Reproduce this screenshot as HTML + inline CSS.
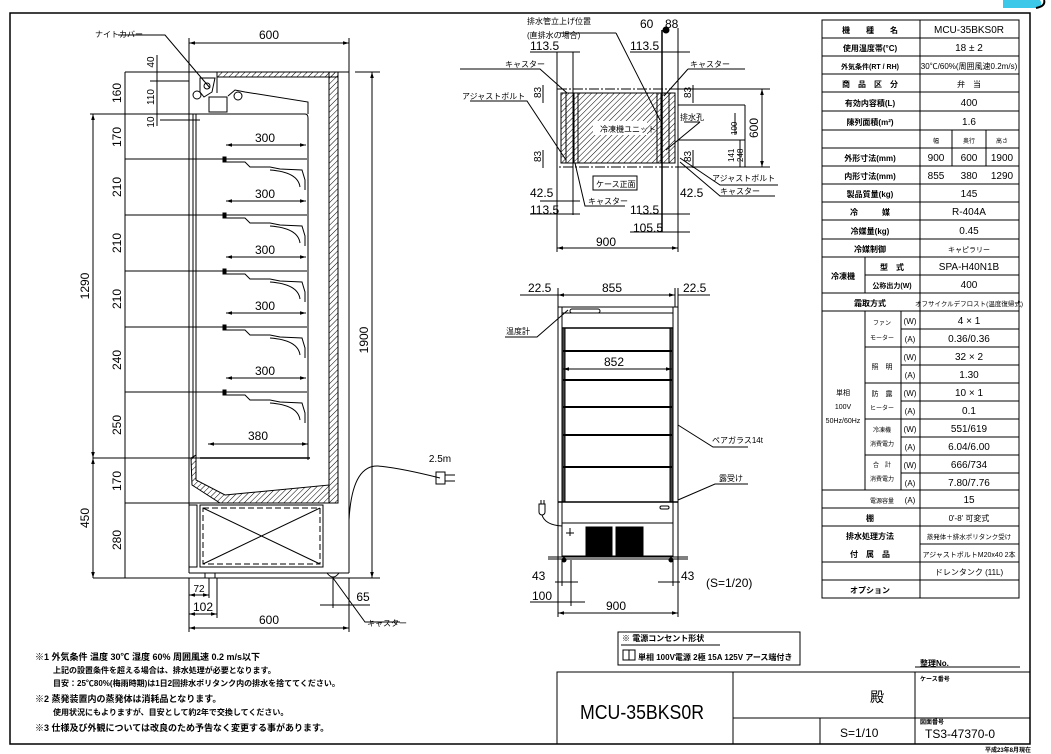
<!DOCTYPE html>
<html><head><meta charset="utf-8">
<style>
html,body{margin:0;padding:0;background:#fff;}
svg{display:block;font-family:"Liberation Sans","Noto Sans CJK JP",sans-serif;}
text{fill:#000;}
.d{font-size:12px;}
.s{font-size:8px;}
.t{font-size:10px;}
</style></head><body>
<svg width="1051" height="754" viewBox="0 0 1051 754" xmlns="http://www.w3.org/2000/svg">
<defs>
<pattern id="h" width="4" height="4" patternUnits="userSpaceOnUse" patternTransform="rotate(45)">
<line x1="0" y1="0" x2="0" y2="4" stroke="#000" stroke-width="1"/></pattern>
<marker id="a" viewBox="0 0 10 10" refX="10" refY="5" markerWidth="6" markerHeight="6" orient="auto-start-reverse"><path d="M0,2 L10,5 L0,8z" fill="#000"/></marker>
</defs>
<path d="M1003,0 H1040 Q1044,6 1036,8 H1003z" fill="#3cc8e8"/>
<path d="M1036,8 Q1046,6 1044,0" stroke="#000" stroke-width="2" fill="none"/>
<rect x="10" y="13" width="1020" height="731" fill="none" stroke="#000" stroke-width="1.5"/>

<g stroke="#000" fill="none" stroke-width="1">
<line x1="189" y1="43" x2="349" y2="43" marker-start="url(#a)" marker-end="url(#a)"/>
<line x1="189" y1="38" x2="189" y2="72"/><line x1="349" y1="38" x2="349" y2="72"/>
<rect x="217" y="72" width="121" height="5" fill="url(#h)"/>
<rect x="329" y="72" width="9" height="431" fill="url(#h)"/>
<path d="M191,458 L196,455 L196,480 L225,495 L329,485 L329,503 L300,503 L220,503 L192,485z" fill="url(#h)"/>
<line x1="189" y1="72" x2="189" y2="573"/>
<line x1="193" y1="114" x2="193" y2="458"/>
<line x1="196" y1="114" x2="196" y2="458"/>
<line x1="189" y1="72" x2="217" y2="72"/>
<line x1="217" y1="72" x2="217" y2="93"/>
<path d="M200,78 L215,78 L212,92 L204,97 L200,92z"/>
<circle cx="207" cy="86" r="3"/><circle cx="197" cy="95" r="4"/>
<rect x="209" y="97" width="18" height="15"/>
<path d="M228,96 L235,90 L245,92 L308,102 L308,114"/>
<circle cx="238" cy="96" r="4"/>
<line x1="189" y1="114" x2="305" y2="114"/>
<path d="M305,114 Q308,114 308,118 L308,460"/>
<line x1="349" y1="72" x2="349" y2="573"/>
<line x1="338" y1="72" x2="349" y2="72"/>
<line x1="189" y1="573" x2="349" y2="573"/>
<line x1="189" y1="578" x2="380" y2="578"/>
<line x1="200" y1="458" x2="310" y2="458" stroke-width="1.5"/>
<line x1="189" y1="503" x2="338" y2="503"/>
<rect x="200" y="505" width="123" height="62"/>
<rect x="203" y="508" width="117" height="56" stroke-dasharray="6,3"/>
<line x1="203" y1="508" x2="320" y2="564"/><line x1="320" y1="508" x2="203" y2="564"/>
<rect x="189" y="505" width="8" height="62"/>
<path d="M205,573 h10 v5 h-10z M327,573 q6,8 12,0"/>
<g id="sh">
<path d="M225,159 L307,159 M225,162 L245,162 L250,167 L270,167 L280,169 L302,170 L305,180 L305,190"/>
<path d="M270,170 Q298,172 300,187"/>
<rect x="223" y="157" width="3" height="5" fill="#000"/>
</g>
<use href="#sh" y="56"/><use href="#sh" y="112"/><use href="#sh" y="168"/><use href="#sh" y="233"/>
<line x1="125" y1="159" x2="225" y2="159"/><line x1="125" y1="215" x2="225" y2="215"/>
<line x1="125" y1="271" x2="225" y2="271"/><line x1="125" y1="327" x2="225" y2="327"/>
<line x1="125" y1="392" x2="225" y2="392"/>
<line x1="93" y1="458" x2="200" y2="458"/><line x1="125" y1="503" x2="189" y2="503"/>
<line x1="125" y1="72" x2="189" y2="72"/><line x1="90" y1="114" x2="189" y2="114"/>
<line x1="93" y1="578" x2="189" y2="578"/>
<g id="dm"><line x1="226" y1="145" x2="306" y2="145" marker-start="url(#a)" marker-end="url(#a)"/></g>
<use href="#dm" y="56"/><use href="#dm" y="112"/><use href="#dm" y="168"/><use href="#dm" y="233"/>
<line x1="208" y1="444" x2="308" y2="444" marker-start="url(#a)" marker-end="url(#a)"/>
<line x1="93" y1="114" x2="93" y2="458" marker-start="url(#a)" marker-end="url(#a)"/>
<line x1="93" y1="458" x2="93" y2="578" marker-start="url(#a)" marker-end="url(#a)"/>
<line x1="125" y1="72" x2="125" y2="578"/>
<line x1="157" y1="55" x2="157" y2="126"/>
<line x1="150" y1="81" x2="189" y2="81"/>
<line x1="372" y1="72" x2="372" y2="578" marker-start="url(#a)" marker-end="url(#a)"/>
<line x1="355" y1="72" x2="380" y2="72"/>
<line x1="189" y1="595" x2="209" y2="595" marker-start="url(#a)" marker-end="url(#a)"/>
<line x1="189" y1="614" x2="217" y2="614" marker-start="url(#a)" marker-end="url(#a)"/>
<line x1="189" y1="628" x2="349" y2="628" marker-start="url(#a)" marker-end="url(#a)"/>
<line x1="189" y1="578" x2="189" y2="632"/><line x1="349" y1="578" x2="349" y2="632"/>
<line x1="209" y1="578" x2="209" y2="598"/><line x1="217" y1="578" x2="217" y2="618"/>
<line x1="320" y1="605" x2="370" y2="605"/><line x1="333" y1="578" x2="333" y2="608"/>
<path d="M333,578 L365,622 L400,622"/>
<line x1="160" y1="120" x2="200" y2="120"/>
<path d="M118,35 L165,35 L210,88"/>
<path d="M349,520 Q352,465 378,466 Q400,468 440,478"/>
<rect x="436" y="472" width="9" height="12"/>
<line x1="445" y1="475" x2="455" y2="475"/><line x1="445" y1="481" x2="455" y2="481"/>

<rect x="557" y="89" width="121" height="78" stroke-dasharray="10,2,2,2"/>
<rect x="561" y="93" width="114" height="70"/>
<rect x="561" y="93" width="17" height="70" fill="url(#h)"/>
<rect x="578" y="93" width="79" height="70" fill="url(#h)"/>
<rect x="657" y="93" width="18" height="70" fill="url(#h)"/>
<rect x="566" y="93" width="8" height="70"/><rect x="661" y="93" width="8" height="70"/>
<rect x="593" y="121" width="54" height="14" fill="#fff" stroke="none"/>
<rect x="593" y="176" width="44" height="14"/>
<line x1="557" y1="52" x2="557" y2="252"/><line x1="678" y1="28" x2="678" y2="252"/>
<line x1="573" y1="52" x2="573" y2="215"/><line x1="662" y1="52" x2="662" y2="215"/>
<line x1="557" y1="248" x2="678" y2="248" marker-start="url(#a)" marker-end="url(#a)"/>
<line x1="762" y1="89" x2="762" y2="167" marker-start="url(#a)" marker-end="url(#a)"/>
<line x1="678" y1="89" x2="770" y2="89"/><line x1="678" y1="167" x2="770" y2="167"/>
<line x1="530" y1="52" x2="580" y2="52"/><line x1="540" y1="201" x2="580" y2="201"/>
<line x1="530" y1="214" x2="580" y2="214"/>
<line x1="630" y1="52" x2="690" y2="52"/><line x1="640" y1="214" x2="690" y2="214"/>
<line x1="630" y1="232" x2="690" y2="232"/>
<line x1="662" y1="30" x2="662" y2="232" stroke-width="1.5"/>
<circle cx="666" cy="30" r="3" fill="#000"/>
<path d="M460,69 L540,69 L567,93 M470,101 L527,101 L566,160 M560,33 L616,33 M616,33 L660,120 M688,69 L745,69 M688,69 L664,96 M684,122 L700,122 M700,122 L666,150"/>
<path d="M680,158 L720,185 L778,185 M680,162 L720,196 L775,196 M575,163 L585,206 L625,206"/>
<line x1="678" y1="105" x2="745" y2="105"/><line x1="678" y1="140" x2="745" y2="140"/>
<line x1="735" y1="113" x2="735" y2="135"/><line x1="745" y1="105" x2="745" y2="167"/>
<line x1="740" y1="140" x2="740" y2="167"/>
<line x1="543" y1="85" x2="543" y2="103"/><line x1="543" y1="150" x2="543" y2="168"/>
<line x1="693" y1="85" x2="693" y2="103"/><line x1="693" y1="150" x2="693" y2="168"/>

<line x1="558" y1="295" x2="675" y2="295" marker-start="url(#a)" marker-end="url(#a)"/>
<line x1="520" y1="295" x2="558" y2="295"/><line x1="678" y1="295" x2="710" y2="295"/>
<line x1="558" y1="288" x2="558" y2="307"/><line x1="675" y1="288" x2="675" y2="307"/><line x1="678" y1="288" x2="678" y2="307"/>
<rect x="558" y="307" width="120" height="252"/>
<rect x="562" y="307" width="111" height="249"/>
<line x1="562" y1="313" x2="673" y2="313"/>
<rect x="570" y="309" width="30" height="4" rx="2"/>
<line x1="562" y1="328" x2="673" y2="328" stroke-width="1.5"/>
<rect x="562" y="328" width="3" height="174" fill="#444"/><rect x="670" y="328" width="3" height="174" fill="#444"/>
<g stroke-width="2"><line x1="563" y1="351" x2="672" y2="351"/><line x1="563" y1="380" x2="672" y2="380"/>
<line x1="563" y1="407" x2="672" y2="407"/><line x1="563" y1="435" x2="672" y2="435"/><line x1="563" y1="467" x2="672" y2="467"/></g>
<line x1="563" y1="369" x2="672" y2="369" marker-start="url(#a)" marker-end="url(#a)"/>
<line x1="558" y1="502" x2="678" y2="502" stroke-width="1.5"/>
<line x1="562" y1="523" x2="673" y2="523"/>
<rect x="660" y="506" width="9" height="3" rx="1.5"/>
<rect x="586" y="527" width="26" height="29" fill="#000"/><rect x="616" y="527" width="27" height="29" fill="#000"/>
<line x1="548" y1="559" x2="688" y2="559"/>
<line x1="548" y1="557" x2="688" y2="557"/>
<circle cx="564" cy="560" r="2" fill="#000"/><circle cx="671" cy="560" r="2" fill="#000"/>
<path d="M539,504 v8 a3,3 0 0 0 6,0 v-8z M541,504 v-4 M544,504 v-4"/>
<path d="M542,515 Q545,525 562,526"/>
<path d="M570,528 v8 M566,533 h8"/>
<line x1="555" y1="582" x2="578" y2="582"/><line x1="562" y1="560" x2="562" y2="586"/>
<line x1="673" y1="560" x2="673" y2="586"/><line x1="658" y1="582" x2="680" y2="582"/>
<line x1="530" y1="602" x2="585" y2="602"/><line x1="571" y1="560" x2="571" y2="606"/>
<line x1="558" y1="613" x2="678" y2="613" marker-start="url(#a)" marker-end="url(#a)"/>
<line x1="558" y1="559" x2="558" y2="617"/><line x1="678" y1="559" x2="678" y2="617"/>
<path d="M505,337 L537,337 L568,310 M748,447 L713,447 L678,425 M748,484 L715,484 L678,500"/>

<rect x="618" y="632" width="182" height="33"/>
<line x1="621" y1="645" x2="720" y2="645"/>
<rect x="623" y="650" width="12" height="10"/>
<line x1="629" y1="650" x2="629" y2="660"/>
<rect x="557" y="672" width="473" height="72"/>
<line x1="733" y1="672" x2="733" y2="744"/>
<line x1="915" y1="672" x2="915" y2="744"/>
<line x1="733" y1="718" x2="1030" y2="718"/>
<line x1="820" y1="718" x2="820" y2="744"/>
<line x1="915" y1="667" x2="1020" y2="667"/>
<rect x="822" y="20" width="197" height="578"/>
</g>

<g class="d" text-anchor="middle">
<text x="269" y="39">600</text>
<text x="265" y="142">300</text><text x="265" y="198">300</text><text x="265" y="254">300</text><text x="265" y="310">300</text><text x="265" y="375">300</text>
<text x="258" y="440">380</text>
<text x="199" y="592" class="t">72</text><text x="203" y="611">102</text><text x="269" y="624">600</text><text x="363" y="601">65</text>
<text x="440" y="462" class="t">2.5m</text>
</g>
<g class="d" text-anchor="middle">
<text transform="translate(121,93) rotate(-90)">160</text>
<text transform="translate(121,137) rotate(-90)">170</text>
<text transform="translate(121,187) rotate(-90)">210</text>
<text transform="translate(121,243) rotate(-90)">210</text>
<text transform="translate(121,299) rotate(-90)">210</text>
<text transform="translate(121,360) rotate(-90)">240</text>
<text transform="translate(121,425) rotate(-90)">250</text>
<text transform="translate(121,481) rotate(-90)">170</text>
<text transform="translate(121,540) rotate(-90)">280</text>
<text transform="translate(89,286) rotate(-90)">1290</text>
<text transform="translate(89,518) rotate(-90)">450</text>
<text transform="translate(368,340) rotate(-90)">1900</text>
<text transform="translate(154,62) rotate(-90)" class="t">40</text>
<text transform="translate(154,97) rotate(-90)" class="t">110</text>
<text transform="translate(154,122) rotate(-90)" class="t">10</text>
</g>
<text x="95" y="37" class="s">ナイトカバー</text>
<text x="367" y="626" class="s">キャスター</text>

<g class="d">
<text x="527" y="24" class="s">排水管立上げ位置</text>
<text x="527" y="38" class="s">(直排水の場合)</text>
<text x="640" y="28">60</text><text x="665" y="28">88</text>
<text x="530" y="50">113.5</text><text x="630" y="50">113.5</text>
<text x="530" y="197">42.5</text><text x="680" y="197">42.5</text>
<text x="530" y="214">113.5</text><text x="630" y="214">113.5</text>
<text x="633" y="232">105.5</text>
<text x="596" y="246">900</text>
<text transform="translate(758,138) rotate(-90)">600</text>
<text transform="translate(541,98) rotate(-90)" class="t">83</text>
<text transform="translate(541,162) rotate(-90)" class="t">83</text>
<text transform="translate(691,98) rotate(-90)" class="t">83</text>
<text transform="translate(691,162) rotate(-90)" class="t">83</text>
<text transform="translate(737,135) rotate(-90)" class="s">100</text>
<text transform="translate(734,162) rotate(-90)" class="s">141</text>
<text transform="translate(743,162) rotate(-90)" class="s">248</text>
</g>
<g class="s">
<text x="505" y="67">キャスター</text><text x="690" y="67">キャスター</text>
<text x="462" y="99">アジャストボルト</text>
<text x="600" y="132">冷凍機ユニット</text>
<text x="680" y="120">排水孔</text>
<text x="596" y="187">ケース正面</text>
<text x="588" y="204">キャスター</text>
<text x="712" y="181">アジャストボルト</text>
<text x="720" y="194">キャスター</text>
</g>

<g class="d">
<text x="528" y="292">22.5</text><text x="602" y="292">855</text><text x="683" y="292">22.5</text>
<text x="604" y="366">852</text>
<text x="532" y="580">43</text><text x="681" y="580">43</text>
<text x="532" y="600">100</text><text x="606" y="610">900</text>
<text x="706" y="587">(S=1/20)</text>
</g>
<g class="s">
<text x="506" y="334">温度計</text>
<text x="712" y="443">ペアガラス14t</text>
<text x="719" y="481">露受け</text>
</g>

<g class="s" font-weight="bold">
<text x="622" y="641">※ 電源コンセント形状</text>
<text x="638" y="660">単相 100V電源 2極 15A 125V アース端付き</text>
<text x="35" y="660" font-size="9">※1 外気条件 温度 30℃ 湿度 60% 周囲風速 0.2 m/s以下</text>
<text x="53" y="673">上記の設置条件を超える場合は、排水処理が必要となります。</text>
<text x="53" y="686">目安：25℃80%(梅雨時期)は1日2回排水ポリタンク内の排水を捨ててください。</text>
<text x="35" y="702" font-size="9">※2 蒸発装置内の蒸発体は消耗品となります。</text>
<text x="53" y="715">使用状況にもよりますが、目安として約2年で交換してください。</text>
<text x="35" y="731" font-size="9">※3 仕様及び外観については改良のため予告なく変更する事があります。</text>
<text x="920" y="666">整理No.</text>
<text x="920" y="681" font-size="6">ケース番号</text>
<text x="920" y="724" font-size="6">図面番号</text>
<text x="985" y="752" font-size="6">平成23年8月現在</text>
</g>
<text x="580" y="719" font-size="20" textLength="124" lengthAdjust="spacingAndGlyphs">MCU-35BKS0R</text>
<text x="870" y="702" font-size="14">殿</text>
<text x="840" y="737" font-size="12">S=1/10</text>
<text x="925" y="738" font-size="12">TS3-47370-0</text>

<g stroke="#000" stroke-width="1" fill="none">
<line x1="920" y1="20" x2="920" y2="598"/>
<line x1="952" y1="130" x2="952" y2="166"/><line x1="986" y1="130" x2="986" y2="166"/>
<line x1="865" y1="257" x2="865" y2="293"/>
<line x1="865" y1="311" x2="865" y2="490"/><line x1="901" y1="311" x2="901" y2="490"/>
<line x1="822" y1="38" x2="1019" y2="38"/><line x1="822" y1="56" x2="1019" y2="56"/>
<line x1="822" y1="74" x2="1019" y2="74"/><line x1="822" y1="92" x2="1019" y2="92"/>
<line x1="822" y1="111" x2="1019" y2="111"/><line x1="822" y1="130" x2="1019" y2="130"/>
<line x1="822" y1="148" x2="1019" y2="148"/><line x1="822" y1="166" x2="1019" y2="166"/>
<line x1="822" y1="184" x2="1019" y2="184"/><line x1="822" y1="202" x2="1019" y2="202"/>
<line x1="822" y1="220" x2="1019" y2="220"/><line x1="822" y1="239" x2="1019" y2="239"/>
<line x1="822" y1="257" x2="1019" y2="257"/><line x1="865" y1="275" x2="1019" y2="275"/>
<line x1="822" y1="293" x2="1019" y2="293"/><line x1="822" y1="311" x2="1019" y2="311"/>
<line x1="901" y1="329" x2="1019" y2="329"/><line x1="865" y1="347" x2="1019" y2="347"/>
<line x1="901" y1="365" x2="1019" y2="365"/><line x1="865" y1="383" x2="1019" y2="383"/>
<line x1="901" y1="401" x2="1019" y2="401"/><line x1="865" y1="419" x2="1019" y2="419"/>
<line x1="901" y1="437" x2="1019" y2="437"/><line x1="865" y1="455" x2="1019" y2="455"/>
<line x1="901" y1="473" x2="1019" y2="473"/><line x1="865" y1="490" x2="1019" y2="490"/>
<line x1="822" y1="490" x2="1019" y2="490"/><line x1="822" y1="508" x2="1019" y2="508"/>
<line x1="822" y1="526" x2="1019" y2="526"/><line x1="920" y1="544" x2="1019" y2="544"/>
<line x1="822" y1="562" x2="1019" y2="562"/><line x1="822" y1="580" x2="1019" y2="580"/>
</g>
<g font-size="10" text-anchor="middle">
<g font-weight="bold">
<text x="870" y="33" class="s">機　　種　　名</text>
<text x="870" y="51" class="s">使用温度帯(°C)</text>
<text x="870" y="69" font-size="7">外気条件(RT / RH)</text>
<text x="870" y="87" class="s">商　品　区　分</text>
<text x="870" y="106" class="s">有効内容積(L)</text>
<text x="870" y="125" class="s">陳列面積(m²)</text>
<text x="870" y="161" class="s">外形寸法(mm)</text>
<text x="870" y="179" class="s">内形寸法(mm)</text>
<text x="870" y="197" class="s">製品質量(kg)</text>
<text x="870" y="215" class="s">冷　　　媒</text>
<text x="870" y="234" class="s">冷媒量(kg)</text>
<text x="870" y="252" class="s">冷媒制御</text>
<text x="843" y="279" class="s">冷凍機</text>
<text x="892" y="270" class="s">型　式</text>
<text x="892" y="288" font-size="7">公称出力(W)</text>
<text x="870" y="306" class="s">霜取方式</text>
<text x="870" y="521" class="s">棚</text>
<text x="870" y="539" class="s">排水処理方法</text>
<text x="870" y="557" class="s">付　属　品</text>
<text x="870" y="593" class="s">オプション</text>
</g>
<text x="969" y="33">MCU-35BKS0R</text>
<text x="969" y="51">18 ± 2</text>
<text x="969" y="69" font-size="8">30℃/60%(周囲風速0.2m/s)</text>
<text x="969" y="87" class="s">弁　当</text>
<text x="969" y="106">400</text>
<text x="969" y="125">1.6</text>
<text x="936" y="143" font-size="6">幅</text><text x="969" y="143" font-size="6">奥行</text><text x="1002" y="143" font-size="6">高さ</text>
<text x="936" y="161">900</text><text x="969" y="161">600</text><text x="1002" y="161">1900</text>
<text x="936" y="179">855</text><text x="969" y="179">380</text><text x="1002" y="179">1290</text>
<text x="969" y="197">145</text>
<text x="969" y="215">R-404A</text>
<text x="969" y="234">0.45</text>
<text x="969" y="252" font-size="7">キャピラリー</text>
<text x="969" y="270">SPA-H40N1B</text>
<text x="969" y="288">400</text>
<text x="969" y="306" font-size="6.5">オフサイクルデフロスト(温度復帰式)</text>
<text x="843" y="395" font-size="7">単相</text><text x="843" y="409" font-size="7">100V</text><text x="843" y="423" font-size="7">50Hz/60Hz</text>
<text x="882" y="325" font-size="6">ファン</text><text x="882" y="340" font-size="6">モーター</text>
<text x="882" y="369" font-size="7">照　明</text>
<text x="882" y="396" font-size="7">防　露</text><text x="882" y="410" font-size="6">ヒーター</text>
<text x="882" y="432" font-size="6">冷凍機</text><text x="882" y="446" font-size="6">消費電力</text>
<text x="882" y="467" font-size="6">合　計</text><text x="882" y="481" font-size="6">消費電力</text>
<text x="882" y="503" font-size="6">電源容量</text>
<text x="910" y="324" font-size="8">(W)</text><text x="910" y="342" font-size="8">(A)</text>
<text x="910" y="360" font-size="8">(W)</text><text x="910" y="378" font-size="8">(A)</text>
<text x="910" y="396" font-size="8">(W)</text><text x="910" y="414" font-size="8">(A)</text>
<text x="910" y="432" font-size="8">(W)</text><text x="910" y="450" font-size="8">(A)</text>
<text x="910" y="468" font-size="8">(W)</text><text x="910" y="486" font-size="8">(A)</text>
<text x="910" y="503" font-size="8">(A)</text>
<text x="969" y="324">4 × 1</text><text x="969" y="342">0.36/0.36</text>
<text x="969" y="360">32 × 2</text><text x="969" y="378">1.30</text>
<text x="969" y="396">10 × 1</text><text x="969" y="414">0.1</text>
<text x="969" y="432">551/619</text><text x="969" y="450">6.04/6.00</text>
<text x="969" y="468">666/734</text><text x="969" y="486">7.80/7.76</text>
<text x="969" y="503">15</text>
<text x="969" y="521" font-size="8">0'-8' 可変式</text>
<text x="969" y="539" font-size="6.5">蒸発体＋排水ポリタンク受け</text>
<text x="969" y="557" font-size="7">アジャストボルトM20x40 2本</text>
<text x="969" y="575" font-size="8">ドレンタンク (11L)</text>
</g>
</svg>
</body></html>
